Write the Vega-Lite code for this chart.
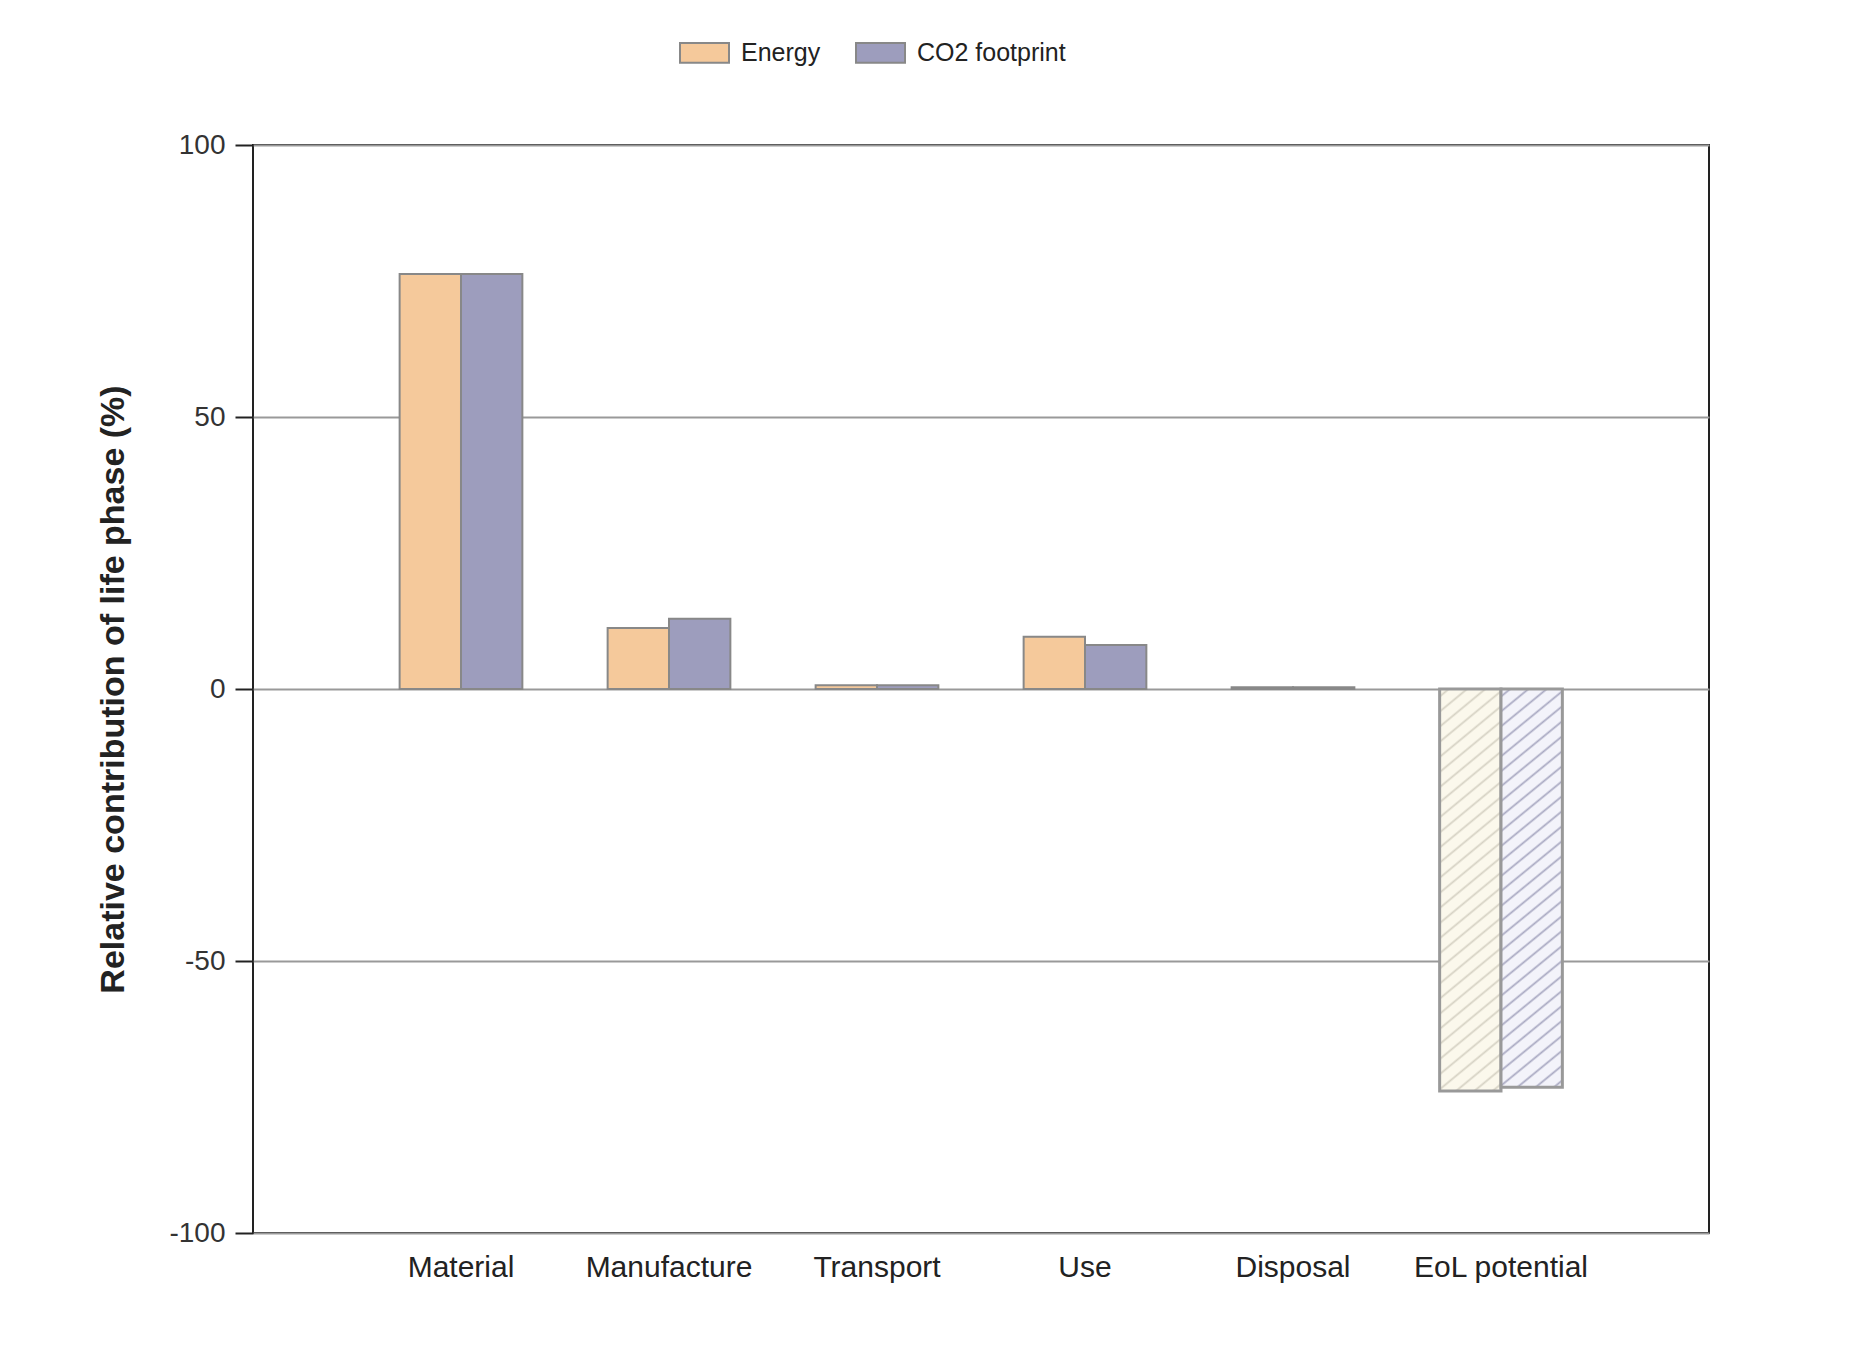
{
  "$schema": "https://vega.github.io/schema/vega-lite/v6.json",
  "autosize": {"type": "none"},
  "padding": {"left": 253, "top": 145, "right": 143, "bottom": 113},
  "width": 1456,
  "height": 1088,
  "background": "white",
  "config": {
    "font": "Liberation Sans",
    "view": {"stroke": "#222222", "strokeWidth": 2}
  },
  "data": {
    "values": [
      {"phase": "Material", "series": "Energy", "value": 76.3},
      {"phase": "Material", "series": "CO2 footprint", "value": 76.3},
      {"phase": "Manufacture", "series": "Energy", "value": 11.2},
      {"phase": "Manufacture", "series": "CO2 footprint", "value": 12.9},
      {"phase": "Transport", "series": "Energy", "value": 0.7},
      {"phase": "Transport", "series": "CO2 footprint", "value": 0.7},
      {"phase": "Use", "series": "Energy", "value": 9.6},
      {"phase": "Use", "series": "CO2 footprint", "value": 8.1},
      {"phase": "Disposal", "series": "Energy", "value": 0.3},
      {"phase": "Disposal", "series": "CO2 footprint", "value": 0.3},
      {"phase": "EoL potential", "series": "Energy", "value": -73.9},
      {"phase": "EoL potential", "series": "CO2 footprint", "value": -73.2}
    ]
  },
  "encoding": {
    "x": {
      "field": "phase",
      "type": "nominal",
      "sort": null,
      "scale": {
        "domain": ["Material", "Manufacture", "Transport", "Use", "Disposal", "EoL potential"],
        "paddingInner": 0.41,
        "paddingOuter": 0.705
      },
      "axis": {
        "title": null,
        "ticks": false,
        "domain": false,
        "labelAngle": 0,
        "labelFontSize": 30,
        "labelColor": "#222222",
        "labelPadding": 19
      }
    },
    "xOffset": {
      "field": "series",
      "type": "nominal",
      "scale": {"domain": ["Energy", "CO2 footprint"], "paddingInner": 0, "paddingOuter": 0}
    },
    "y": {
      "field": "value",
      "type": "quantitative",
      "scale": {"domain": [-100, 100], "nice": false},
      "axis": {
        "values": [-100, -50, 0, 50, 100],
        "labelExpr": "replace(datum.label, '\u2212', '-')",
        "title": "Relative contribution of life phase (%)",
        "titleFontSize": 34,
        "titleFontWeight": "bold",
        "titleColor": "#222222",
        "titlePadding": 38,
        "grid": true,
        "gridColor": "#999999",
        "gridWidth": 2,
        "domain": false,
        "tickColor": "#222222",
        "tickWidth": 2,
        "tickSize": 18,
        "labelFontSize": 28,
        "labelColor": "#333333",
        "labelPadding": 10
      }
    }
  },
  "layer": [
    {
      "transform": [{"filter": "datum.phase !== 'EoL potential'"}],
      "mark": {"type": "bar", "stroke": "#888888", "strokeWidth": 2},
      "encoding": {
        "fill": {
          "field": "series",
          "type": "nominal",
          "scale": {"domain": ["Energy", "CO2 footprint"], "range": ["#F5C99B", "#9D9DBD"]},
          "legend": {
            "title": null,
            "orient": "none",
            "direction": "horizontal",
            "legendX": 426,
            "legendY": -118,
            "symbolType": "M-1,-0.4H1V0.4H-1Z",
            "symbolSize": 2401,
            "symbolStrokeColor": "#888888",
            "symbolStrokeWidth": 2,
            "labelFontSize": 25,
            "labelColor": "#222222",
            "labelOffset": 11,
            "columnPadding": 31
          }
        }
      }
    },
    {
      "transform": [{"filter": "datum.phase === 'EoL potential' && datum.series === 'Energy'"}],
      "mark": {
        "type": "bar",
        "stroke": "#999999",
        "strokeWidth": 3,
        "fill": {
          "gradient": "linear", "x1": 0, "y1": 0, "x2": 0.14, "y2": 1.11,
          "stops": [
            {"offset": 0, "color": "#FBF8EC"},
            {"offset": 0.0117, "color": "#FBF8EC"}, {"offset": 0.0167, "color": "#D6D2C4"}, {"offset": 0.0217, "color": "#FBF8EC"},
            {"offset": 0.0450, "color": "#FBF8EC"}, {"offset": 0.0500, "color": "#D6D2C4"}, {"offset": 0.0550, "color": "#FBF8EC"},
            {"offset": 0.0783, "color": "#FBF8EC"}, {"offset": 0.0833, "color": "#D6D2C4"}, {"offset": 0.0883, "color": "#FBF8EC"},
            {"offset": 0.1117, "color": "#FBF8EC"}, {"offset": 0.1167, "color": "#D6D2C4"}, {"offset": 0.1217, "color": "#FBF8EC"},
            {"offset": 0.1450, "color": "#FBF8EC"}, {"offset": 0.1500, "color": "#D6D2C4"}, {"offset": 0.1550, "color": "#FBF8EC"},
            {"offset": 0.1783, "color": "#FBF8EC"}, {"offset": 0.1833, "color": "#D6D2C4"}, {"offset": 0.1883, "color": "#FBF8EC"},
            {"offset": 0.2117, "color": "#FBF8EC"}, {"offset": 0.2167, "color": "#D6D2C4"}, {"offset": 0.2217, "color": "#FBF8EC"},
            {"offset": 0.2450, "color": "#FBF8EC"}, {"offset": 0.2500, "color": "#D6D2C4"}, {"offset": 0.2550, "color": "#FBF8EC"},
            {"offset": 0.2783, "color": "#FBF8EC"}, {"offset": 0.2833, "color": "#D6D2C4"}, {"offset": 0.2883, "color": "#FBF8EC"},
            {"offset": 0.3117, "color": "#FBF8EC"}, {"offset": 0.3167, "color": "#D6D2C4"}, {"offset": 0.3217, "color": "#FBF8EC"},
            {"offset": 0.3450, "color": "#FBF8EC"}, {"offset": 0.3500, "color": "#D6D2C4"}, {"offset": 0.3550, "color": "#FBF8EC"},
            {"offset": 0.3783, "color": "#FBF8EC"}, {"offset": 0.3833, "color": "#D6D2C4"}, {"offset": 0.3883, "color": "#FBF8EC"},
            {"offset": 0.4117, "color": "#FBF8EC"}, {"offset": 0.4167, "color": "#D6D2C4"}, {"offset": 0.4217, "color": "#FBF8EC"},
            {"offset": 0.4450, "color": "#FBF8EC"}, {"offset": 0.4500, "color": "#D6D2C4"}, {"offset": 0.4550, "color": "#FBF8EC"},
            {"offset": 0.4783, "color": "#FBF8EC"}, {"offset": 0.4833, "color": "#D6D2C4"}, {"offset": 0.4883, "color": "#FBF8EC"},
            {"offset": 0.5117, "color": "#FBF8EC"}, {"offset": 0.5167, "color": "#D6D2C4"}, {"offset": 0.5217, "color": "#FBF8EC"},
            {"offset": 0.5450, "color": "#FBF8EC"}, {"offset": 0.5500, "color": "#D6D2C4"}, {"offset": 0.5550, "color": "#FBF8EC"},
            {"offset": 0.5783, "color": "#FBF8EC"}, {"offset": 0.5833, "color": "#D6D2C4"}, {"offset": 0.5883, "color": "#FBF8EC"},
            {"offset": 0.6117, "color": "#FBF8EC"}, {"offset": 0.6167, "color": "#D6D2C4"}, {"offset": 0.6217, "color": "#FBF8EC"},
            {"offset": 0.6450, "color": "#FBF8EC"}, {"offset": 0.6500, "color": "#D6D2C4"}, {"offset": 0.6550, "color": "#FBF8EC"},
            {"offset": 0.6783, "color": "#FBF8EC"}, {"offset": 0.6833, "color": "#D6D2C4"}, {"offset": 0.6883, "color": "#FBF8EC"},
            {"offset": 0.7117, "color": "#FBF8EC"}, {"offset": 0.7167, "color": "#D6D2C4"}, {"offset": 0.7217, "color": "#FBF8EC"},
            {"offset": 0.7450, "color": "#FBF8EC"}, {"offset": 0.7500, "color": "#D6D2C4"}, {"offset": 0.7550, "color": "#FBF8EC"},
            {"offset": 0.7783, "color": "#FBF8EC"}, {"offset": 0.7833, "color": "#D6D2C4"}, {"offset": 0.7883, "color": "#FBF8EC"},
            {"offset": 0.8117, "color": "#FBF8EC"}, {"offset": 0.8167, "color": "#D6D2C4"}, {"offset": 0.8217, "color": "#FBF8EC"},
            {"offset": 0.8450, "color": "#FBF8EC"}, {"offset": 0.8500, "color": "#D6D2C4"}, {"offset": 0.8550, "color": "#FBF8EC"},
            {"offset": 0.8783, "color": "#FBF8EC"}, {"offset": 0.8833, "color": "#D6D2C4"}, {"offset": 0.8883, "color": "#FBF8EC"},
            {"offset": 0.9117, "color": "#FBF8EC"}, {"offset": 0.9167, "color": "#D6D2C4"}, {"offset": 0.9217, "color": "#FBF8EC"},
            {"offset": 0.9450, "color": "#FBF8EC"}, {"offset": 0.9500, "color": "#D6D2C4"}, {"offset": 0.9550, "color": "#FBF8EC"},
            {"offset": 0.9783, "color": "#FBF8EC"}, {"offset": 0.9833, "color": "#D6D2C4"}, {"offset": 0.9883, "color": "#FBF8EC"},
            {"offset": 1, "color": "#FBF8EC"}
          ]
        }
      }
    },
    {
      "transform": [{"filter": "datum.phase === 'EoL potential' && datum.series === 'CO2 footprint'"}],
      "mark": {
        "type": "bar",
        "stroke": "#999999",
        "strokeWidth": 3,
        "fill": {
          "gradient": "linear", "x1": 0, "y1": 0, "x2": 0.14, "y2": 1.11,
          "stops": [
            {"offset": 0, "color": "#F3F3FA"},
            {"offset": 0.0117, "color": "#F3F3FA"}, {"offset": 0.0167, "color": "#A9A9C2"}, {"offset": 0.0217, "color": "#F3F3FA"},
            {"offset": 0.0450, "color": "#F3F3FA"}, {"offset": 0.0500, "color": "#A9A9C2"}, {"offset": 0.0550, "color": "#F3F3FA"},
            {"offset": 0.0783, "color": "#F3F3FA"}, {"offset": 0.0833, "color": "#A9A9C2"}, {"offset": 0.0883, "color": "#F3F3FA"},
            {"offset": 0.1117, "color": "#F3F3FA"}, {"offset": 0.1167, "color": "#A9A9C2"}, {"offset": 0.1217, "color": "#F3F3FA"},
            {"offset": 0.1450, "color": "#F3F3FA"}, {"offset": 0.1500, "color": "#A9A9C2"}, {"offset": 0.1550, "color": "#F3F3FA"},
            {"offset": 0.1783, "color": "#F3F3FA"}, {"offset": 0.1833, "color": "#A9A9C2"}, {"offset": 0.1883, "color": "#F3F3FA"},
            {"offset": 0.2117, "color": "#F3F3FA"}, {"offset": 0.2167, "color": "#A9A9C2"}, {"offset": 0.2217, "color": "#F3F3FA"},
            {"offset": 0.2450, "color": "#F3F3FA"}, {"offset": 0.2500, "color": "#A9A9C2"}, {"offset": 0.2550, "color": "#F3F3FA"},
            {"offset": 0.2783, "color": "#F3F3FA"}, {"offset": 0.2833, "color": "#A9A9C2"}, {"offset": 0.2883, "color": "#F3F3FA"},
            {"offset": 0.3117, "color": "#F3F3FA"}, {"offset": 0.3167, "color": "#A9A9C2"}, {"offset": 0.3217, "color": "#F3F3FA"},
            {"offset": 0.3450, "color": "#F3F3FA"}, {"offset": 0.3500, "color": "#A9A9C2"}, {"offset": 0.3550, "color": "#F3F3FA"},
            {"offset": 0.3783, "color": "#F3F3FA"}, {"offset": 0.3833, "color": "#A9A9C2"}, {"offset": 0.3883, "color": "#F3F3FA"},
            {"offset": 0.4117, "color": "#F3F3FA"}, {"offset": 0.4167, "color": "#A9A9C2"}, {"offset": 0.4217, "color": "#F3F3FA"},
            {"offset": 0.4450, "color": "#F3F3FA"}, {"offset": 0.4500, "color": "#A9A9C2"}, {"offset": 0.4550, "color": "#F3F3FA"},
            {"offset": 0.4783, "color": "#F3F3FA"}, {"offset": 0.4833, "color": "#A9A9C2"}, {"offset": 0.4883, "color": "#F3F3FA"},
            {"offset": 0.5117, "color": "#F3F3FA"}, {"offset": 0.5167, "color": "#A9A9C2"}, {"offset": 0.5217, "color": "#F3F3FA"},
            {"offset": 0.5450, "color": "#F3F3FA"}, {"offset": 0.5500, "color": "#A9A9C2"}, {"offset": 0.5550, "color": "#F3F3FA"},
            {"offset": 0.5783, "color": "#F3F3FA"}, {"offset": 0.5833, "color": "#A9A9C2"}, {"offset": 0.5883, "color": "#F3F3FA"},
            {"offset": 0.6117, "color": "#F3F3FA"}, {"offset": 0.6167, "color": "#A9A9C2"}, {"offset": 0.6217, "color": "#F3F3FA"},
            {"offset": 0.6450, "color": "#F3F3FA"}, {"offset": 0.6500, "color": "#A9A9C2"}, {"offset": 0.6550, "color": "#F3F3FA"},
            {"offset": 0.6783, "color": "#F3F3FA"}, {"offset": 0.6833, "color": "#A9A9C2"}, {"offset": 0.6883, "color": "#F3F3FA"},
            {"offset": 0.7117, "color": "#F3F3FA"}, {"offset": 0.7167, "color": "#A9A9C2"}, {"offset": 0.7217, "color": "#F3F3FA"},
            {"offset": 0.7450, "color": "#F3F3FA"}, {"offset": 0.7500, "color": "#A9A9C2"}, {"offset": 0.7550, "color": "#F3F3FA"},
            {"offset": 0.7783, "color": "#F3F3FA"}, {"offset": 0.7833, "color": "#A9A9C2"}, {"offset": 0.7883, "color": "#F3F3FA"},
            {"offset": 0.8117, "color": "#F3F3FA"}, {"offset": 0.8167, "color": "#A9A9C2"}, {"offset": 0.8217, "color": "#F3F3FA"},
            {"offset": 0.8450, "color": "#F3F3FA"}, {"offset": 0.8500, "color": "#A9A9C2"}, {"offset": 0.8550, "color": "#F3F3FA"},
            {"offset": 0.8783, "color": "#F3F3FA"}, {"offset": 0.8833, "color": "#A9A9C2"}, {"offset": 0.8883, "color": "#F3F3FA"},
            {"offset": 0.9117, "color": "#F3F3FA"}, {"offset": 0.9167, "color": "#A9A9C2"}, {"offset": 0.9217, "color": "#F3F3FA"},
            {"offset": 0.9450, "color": "#F3F3FA"}, {"offset": 0.9500, "color": "#A9A9C2"}, {"offset": 0.9550, "color": "#F3F3FA"},
            {"offset": 0.9783, "color": "#F3F3FA"}, {"offset": 0.9833, "color": "#A9A9C2"}, {"offset": 0.9883, "color": "#F3F3FA"},
            {"offset": 1, "color": "#F3F3FA"}
          ]
        }
      }
    }
  ]
}
